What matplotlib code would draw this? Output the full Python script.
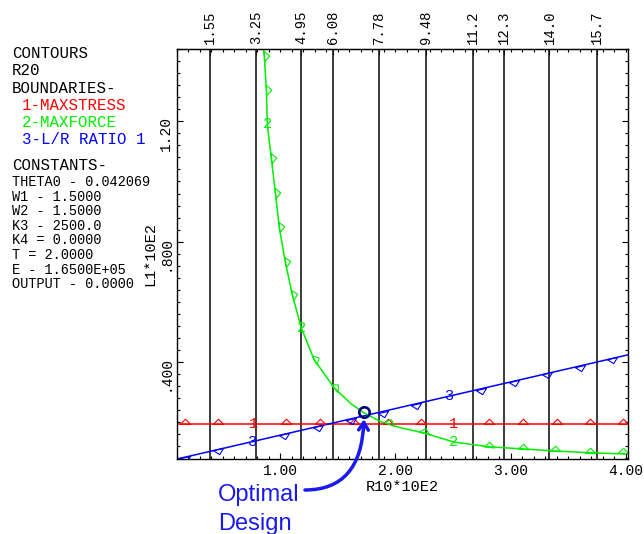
import numpy as np
import matplotlib.pyplot as plt
from matplotlib.ticker import MultipleLocator

# R20 contour lines: position on the R10 axis and their labels
contour_x = [0.385, 0.792, 1.182, 1.459, 1.857, 2.264, 2.671, 2.939, 3.338, 3.753]
contour_labels = ['1.55', '3.25', '4.95', '6.08', '7.78', '9.48', '11.2', '12.3', '14.0', '15.7']

# boundary 1 - MAXSTRESS
stress_x = [0.10, 4.02]
stress_y = [0.193, 0.193]
stress_mark_x = [0.169, 0.463, 1.052, 1.346, 1.641, 1.935, 2.221, 2.810, 3.104, 3.407, 3.693, 3.978]
stress_mark_y = [0.193] * 12
stress_label_x = [0.766, 2.506]
stress_label_y = [0.193, 0.193]

# boundary 2 - MAXFORCE
force_x = [0.853, 0.861, 0.879, 0.887, 0.922, 0.957, 0.991, 1.043, 1.104, 1.182, 1.294,
           1.468, 1.615, 1.727, 1.874, 2.048, 2.247, 2.506, 2.810, 3.104, 3.390, 3.693, 3.996]
force_y = [1.443, 1.417, 1.303, 1.190, 1.077, 0.963, 0.847, 0.733, 0.623, 0.513, 0.407,
           0.313, 0.260, 0.230, 0.200, 0.180, 0.163, 0.133, 0.117, 0.110, 0.103, 0.097, 0.093]
force_mark_x = [0.861, 0.879, 0.922, 0.957, 0.991, 1.043, 1.104, 1.294, 1.468,
                1.944, 2.247, 2.810, 3.104, 3.390, 3.693, 3.978]
force_mark_y = [1.417, 1.303, 1.077, 0.963, 0.847, 0.733, 0.623, 0.407, 0.313,
                0.193, 0.163, 0.117, 0.110, 0.103, 0.097, 0.097]
force_label_x = [0.887, 1.182, 2.506]
force_label_y = [1.190, 0.513, 0.133]

# boundary 3 - L/R RATIO 1
ratio_x = [0.10, 4.02]
ratio_y = [0.076, 0.423]
ratio_mark_x = [0.169, 0.463, 1.035, 1.329, 1.615, 1.892, 2.177, 2.740, 3.026, 3.320, 3.606, 3.883]
ratio_mark_y = [0.082, 0.108, 0.159, 0.185, 0.210, 0.234, 0.260, 0.309, 0.335, 0.361, 0.386, 0.411]
ratio_label_x = [0.749, 2.463]
ratio_label_y = [0.133, 0.285]

# optimum
opt_x = [1.727]
opt_y = [0.232]

x_ticks = [1, 2, 3, 4]
x_tick_labels = ['1.00', '2.00', '3.00', '4.00']
y_ticks = [0.4, 0.8, 1.2]
y_tick_labels = ['.400', '.800', '1.20']

header_lines = [('CONTOURS', 'black'), ('R20', 'black'), ('BOUNDARIES-', 'black'),
                ('1-MAXSTRESS', '#ff0000'), ('2-MAXFORCE', '#00ee00'), ('3-L/R RATIO 1', '#0000ff')]
constant_lines = ['THETA0 - 0.042069', 'W1 - 1.5000', 'W2 - 1.5000', 'K3 - 2500.0',
                  'K4 = 0.0000', 'T = 2.0000', 'E - 1.6500E+05', 'OUTPUT - 0.0000']

RED, GREEN, BLUE = '#ff0000', '#00ee00', '#0000ff'
MONO = 'Liberation Mono'
W, H = 644, 534

fig = plt.figure(figsize=(W / 100, H / 100), dpi=100)
ax = fig.add_axes([176.7 / W, 1 - 458.5 / H, (628 - 176.7) / W, (458.5 - 49.3) / H])
ax.set_xlim(0.10, 4.02)
ax.set_ylim(0.078, 1.44)

for cx in contour_x:
    ax.axvline(cx, color='#1a1a1a', lw=1.2)

ax.plot(stress_x, stress_y, color=RED, lw=1.1)
ax.plot(ratio_x, ratio_y, color=BLUE, lw=1.1)
ax.plot(force_x, force_y, color=GREEN, lw=1.1)


def tri_marks(lx, ly, mx, my, color, side):
    # open triangles sitting on the boundary, pointing to one side of it
    pts = ax.transData.transform(np.column_stack([lx, ly]))
    for x, y in zip(mx, my):
        p = ax.transData.transform((x, y))
        i = np.argmin(np.hypot(*(pts - p).T))
        tx, ty = pts[min(i + 1, len(pts) - 1)] - pts[max(i - 1, 0)]
        a = np.arctan2(tx * side, -ty * side)
        n = np.array([np.cos(a), np.sin(a)])
        t = np.array([np.sin(a), -np.cos(a)])
        verts = [tuple(-t), tuple(n), tuple(t), tuple(-t)]
        scale = np.max(np.abs(verts))
        ax.plot([x], [y], marker=verts, ms=7.6 * scale, mfc='none', mec=color,
                mew=0.8, ls='none')


tri_marks(stress_x, stress_y, stress_mark_x, stress_mark_y, RED, 1)
tri_marks(ratio_x, ratio_y, ratio_mark_x, ratio_mark_y, BLUE, -1)
tri_marks(force_x, force_y, force_mark_x, force_mark_y, GREEN, 1)

for xs, ys, txt, col in [(stress_label_x, stress_label_y, '1', RED),
                         (force_label_x, force_label_y, '2', GREEN),
                         (ratio_label_x, ratio_label_y, '3', BLUE)]:
    for x, y in zip(xs, ys):
        ax.text(x, y, txt, color=col, fontsize=11, family=MONO, ha='center', va='center')

ax.plot(opt_x, opt_y, 'o', ms=7.5, mfc='none', mec='#000080', mew=1.9)

# axes, ticks
ax.set_xticks(x_ticks, x_tick_labels)
ax.set_yticks(y_ticks, y_tick_labels)
ax.xaxis.set_minor_locator(MultipleLocator(0.1))
ax.yaxis.set_minor_locator(MultipleLocator(0.04))
ax.tick_params(which='both', direction='in', top=False, right=True, width=0.8)
ax.tick_params(which='major', length=4)
ax.tick_params(which='minor', length=2.5)
ax.tick_params(axis='x', labelsize=10.5, pad=4)
ax.tick_params(axis='y', labelsize=10.5, pad=3, labelrotation=90)
for lab in ax.get_xticklabels() + ax.get_yticklabels():
    lab.set_family(MONO)
for s in ax.spines.values():
    s.set_linewidth(1.0)

top = ax.secondary_xaxis('top')
top.set_xticks(contour_x, contour_labels)
top.xaxis.set_minor_locator(MultipleLocator(0.1))
top.tick_params(which='both', direction='in', width=0.8, labelsize=10, pad=4, labelrotation=90)
top.tick_params(which='major', length=4)
top.tick_params(which='minor', length=2.5)
for lab in top.get_xticklabels():
    lab.set_family(MONO)

ax.set_xlabel('R10*10E2', family=MONO, fontsize=11)
ax.xaxis.set_label_coords(0.5, -0.052)
ax.set_ylabel('L1*10E2', family=MONO, fontsize=11)
ax.yaxis.set_label_coords(-0.044, 0.5)

# left text block
for k, (txt, col) in enumerate(header_lines):
    x = 12 if col == 'black' else 22
    fig.text(x / W, 1 - (58 + 17.3 * k) / H, txt, color=col, fontsize=11.3,
             family=MONO, va='baseline')
fig.text(12 / W, 1 - 170 / H, 'CONSTANTS-', fontsize=11.3, family=MONO, va='baseline')
for k, txt in enumerate(constant_lines):
    fig.text(12 / W, 1 - (186 + 14.6 * k) / H, txt, fontsize=9.8, family=MONO,
             va='baseline')

# annotation
ANN = '#1a1aee'
fig.text(218 / W, 1 - 484.5 / H, 'Optimal\nDesign', color=ANN, fontsize=17,
         family='Liberation Sans', va='top', ha='left', linespacing=1.37)
ax.annotate('', xy=(opt_x[0], opt_y[0]), xycoords='data',
            xytext=(305, H - 490), textcoords='figure pixels',
            arrowprops=dict(arrowstyle='->,head_length=0.55,head_width=0.35', color=ANN,
                            lw=2.5, shrinkA=0, shrinkB=5,
                            connectionstyle='angle3,angleA=0,angleB=90'),
            annotation_clip=False)

fig.savefig('out.png', dpi=100)
